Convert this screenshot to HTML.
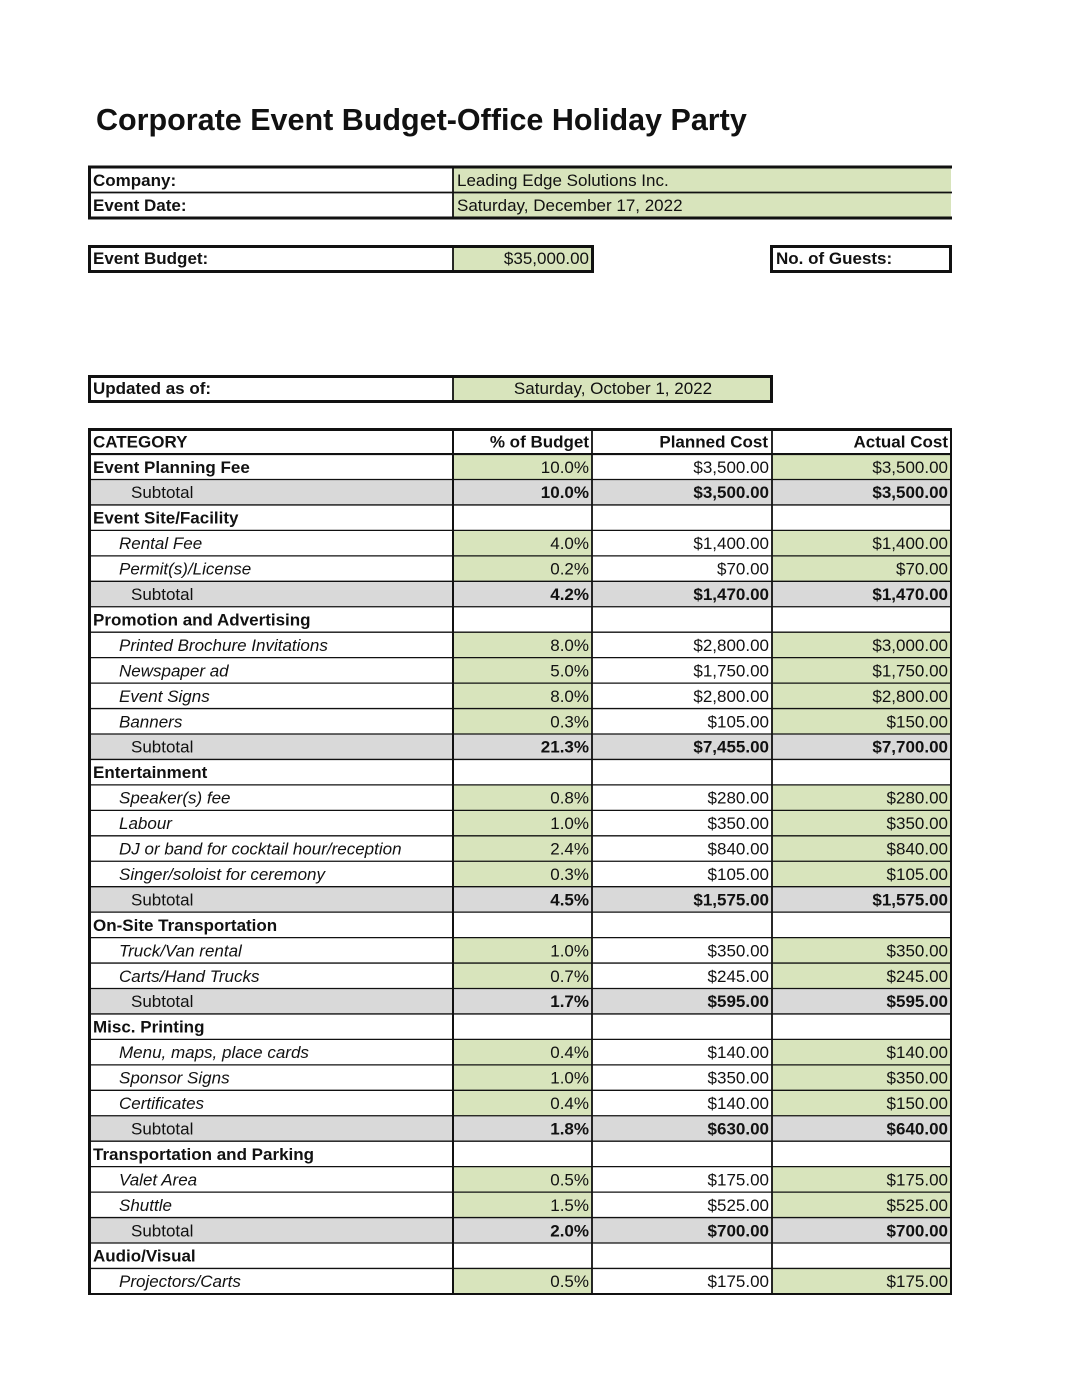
<!DOCTYPE html>
<html><head><meta charset="utf-8"><style>
html,body{margin:0;padding:0;background:#fff;}
svg{display:block;}
text{font-family:"Liberation Sans",Arial,sans-serif;fill:#111;}
.b{font-weight:bold;}
.i{font-style:italic;}
.r{text-anchor:end;}
</style></head><body>
<svg width="1080" height="1398" viewBox="0 0 1080 1398" xmlns="http://www.w3.org/2000/svg">
<rect width="1080" height="1398" fill="#fff"/>
<text x="96" y="130" class="b" font-size="30.5">Corporate Event Budget-Office Holiday Party</text>

<!-- Company box -->
<rect x="453" y="167" width="498" height="51" fill="#d8e4bc"/>
<line x1="88" y1="167" x2="952" y2="167" stroke="#111" stroke-width="3"/>
<line x1="88" y1="218" x2="952" y2="218" stroke="#111" stroke-width="3"/>
<line x1="89" y1="192.5" x2="952" y2="192.5" stroke="#111" stroke-width="1.8"/>
<line x1="89.5" y1="166" x2="89.5" y2="219" stroke="#111" stroke-width="3"/>
<line x1="453" y1="167" x2="453" y2="218" stroke="#111" stroke-width="1.8"/>
<g font-size="17">
<text x="93" y="186" class="b">Company:</text>
<text x="457" y="186">Leading Edge Solutions Inc.</text>
<text x="93" y="211" class="b">Event Date:</text>
<text x="457" y="211">Saturday, December 17, 2022</text>
</g>

<!-- Event budget -->
<rect x="453" y="246" width="140" height="26" fill="#d8e4bc"/>
<rect x="89.5" y="246.5" width="503" height="25" fill="none" stroke="#111" stroke-width="3"/>
<line x1="453" y1="246" x2="453" y2="272" stroke="#111" stroke-width="1.8"/>
<rect x="771.5" y="246.5" width="179" height="25" fill="none" stroke="#111" stroke-width="3"/>
<g font-size="17">
<text x="93" y="264" class="b">Event Budget:</text>
<text x="589" y="264" class="r">$35,000.00</text>
<text x="776" y="264" class="b">No. of Guests:</text>
</g>

<!-- Updated -->
<rect x="453" y="376" width="318" height="26" fill="#d8e4bc"/>
<rect x="89.5" y="376.5" width="682" height="25" fill="none" stroke="#111" stroke-width="3"/>
<line x1="453" y1="376" x2="453" y2="402" stroke="#111" stroke-width="1.8"/>
<g font-size="17">
<text x="93" y="394" class="b">Updated as of:</text>
<text x="613" y="394" text-anchor="middle">Saturday, October 1, 2022</text>
</g>

<!-- Table fills -->
<g fill="#d8e4bc">
<rect x="453" y="454.05" width="139" height="25.45"/><rect x="772" y="454.05" width="179" height="25.45"/>
<rect x="453" y="530.4" width="139" height="50.9"/><rect x="772" y="530.4" width="179" height="50.9"/>
<rect x="453" y="632.2" width="139" height="101.8"/><rect x="772" y="632.2" width="179" height="101.8"/>
<rect x="453" y="784.9" width="139" height="101.8"/><rect x="772" y="784.9" width="179" height="101.8"/>
<rect x="453" y="937.6" width="139" height="50.9"/><rect x="772" y="937.6" width="179" height="50.9"/>
<rect x="453" y="1039.4" width="139" height="76.35"/><rect x="772" y="1039.4" width="179" height="76.35"/>
<rect x="453" y="1166.65" width="139" height="50.9"/><rect x="772" y="1166.65" width="179" height="50.9"/>
<rect x="453" y="1268.45" width="139" height="25.45"/><rect x="772" y="1268.45" width="179" height="25.45"/>
</g>
<g fill="#d9d9d9">
<rect x="89" y="479.5" width="862" height="25.45"/>
<rect x="89" y="581.3" width="862" height="25.45"/>
<rect x="89" y="734.0" width="862" height="25.45"/>
<rect x="89" y="886.7" width="862" height="25.45"/>
<rect x="89" y="988.5" width="862" height="25.45"/>
<rect x="89" y="1115.75" width="862" height="25.45"/>
<rect x="89" y="1217.55" width="862" height="25.45"/>
</g>

<!-- Table lines -->
<g stroke="#111" stroke-width="1.3">
<line x1="89" y1="454.05" x2="951" y2="454.05" stroke-width="2.2"/>
<line x1="89" y1="479.5" x2="951" y2="479.5"/>
<line x1="89" y1="504.95" x2="951" y2="504.95"/>
<line x1="89" y1="530.4" x2="951" y2="530.4"/>
<line x1="89" y1="555.85" x2="951" y2="555.85"/>
<line x1="89" y1="581.3" x2="951" y2="581.3"/>
<line x1="89" y1="606.75" x2="951" y2="606.75"/>
<line x1="89" y1="632.2" x2="951" y2="632.2"/>
<line x1="89" y1="657.65" x2="951" y2="657.65"/>
<line x1="89" y1="683.1" x2="951" y2="683.1"/>
<line x1="89" y1="708.55" x2="951" y2="708.55"/>
<line x1="89" y1="734.0" x2="951" y2="734.0"/>
<line x1="89" y1="759.45" x2="951" y2="759.45"/>
<line x1="89" y1="784.9" x2="951" y2="784.9"/>
<line x1="89" y1="810.35" x2="951" y2="810.35"/>
<line x1="89" y1="835.8" x2="951" y2="835.8"/>
<line x1="89" y1="861.25" x2="951" y2="861.25"/>
<line x1="89" y1="886.7" x2="951" y2="886.7"/>
<line x1="89" y1="912.15" x2="951" y2="912.15"/>
<line x1="89" y1="937.6" x2="951" y2="937.6"/>
<line x1="89" y1="963.05" x2="951" y2="963.05"/>
<line x1="89" y1="988.5" x2="951" y2="988.5"/>
<line x1="89" y1="1013.95" x2="951" y2="1013.95"/>
<line x1="89" y1="1039.4" x2="951" y2="1039.4"/>
<line x1="89" y1="1064.85" x2="951" y2="1064.85"/>
<line x1="89" y1="1090.3" x2="951" y2="1090.3"/>
<line x1="89" y1="1115.75" x2="951" y2="1115.75"/>
<line x1="89" y1="1141.2" x2="951" y2="1141.2"/>
<line x1="89" y1="1166.65" x2="951" y2="1166.65"/>
<line x1="89" y1="1192.1" x2="951" y2="1192.1"/>
<line x1="89" y1="1217.55" x2="951" y2="1217.55"/>
<line x1="89" y1="1243.0" x2="951" y2="1243.0"/>
<line x1="89" y1="1268.45" x2="951" y2="1268.45"/>
<line x1="453" y1="429" x2="453" y2="1294" stroke-width="2"/>
<line x1="592" y1="429" x2="592" y2="1294" stroke-width="1.8"/>
<line x1="772" y1="429" x2="772" y2="1294" stroke-width="1.8"/>
<line x1="88" y1="429.5" x2="952" y2="429.5" stroke-width="3"/>
<line x1="89.5" y1="428" x2="89.5" y2="1295" stroke-width="3"/>
<line x1="951" y1="428" x2="951" y2="1295" stroke-width="2"/>
<line x1="88" y1="1294" x2="952" y2="1294" stroke-width="2"/>
</g>

<!-- Table text -->
<g font-size="17">
<text x="93" y="447.3" class="b">CATEGORY</text>
<text x="589" y="447.3" class="b r">% of Budget</text>
<text x="768" y="447.3" class="b r">Planned Cost</text>
<text x="948" y="447.3" class="b r">Actual Cost</text>

<text x="93" y="472.8" class="b">Event Planning Fee</text>
<text x="589" y="472.8" class="r">10.0%</text><text x="769" y="472.8" class="r">$3,500.00</text><text x="948" y="472.8" class="r">$3,500.00</text>

<text x="131" y="498.2">Subtotal</text>
<text x="589" y="498.2" class="b r">10.0%</text><text x="769" y="498.2" class="b r">$3,500.00</text><text x="948" y="498.2" class="b r">$3,500.00</text>

<text x="93" y="523.7" class="b">Event Site/Facility</text>

<text x="119" y="549.1" class="i">Rental Fee</text>
<text x="589" y="549.1" class="r">4.0%</text><text x="769" y="549.1" class="r">$1,400.00</text><text x="948" y="549.1" class="r">$1,400.00</text>
<text x="119" y="574.6" class="i">Permit(s)/License</text>
<text x="589" y="574.6" class="r">0.2%</text><text x="769" y="574.6" class="r">$70.00</text><text x="948" y="574.6" class="r">$70.00</text>
<text x="131" y="600.0">Subtotal</text>
<text x="589" y="600.0" class="b r">4.2%</text><text x="769" y="600.0" class="b r">$1,470.00</text><text x="948" y="600.0" class="b r">$1,470.00</text>

<text x="93" y="625.5" class="b">Promotion and Advertising</text>
<text x="119" y="650.9" class="i">Printed Brochure Invitations</text>
<text x="589" y="650.9" class="r">8.0%</text><text x="769" y="650.9" class="r">$2,800.00</text><text x="948" y="650.9" class="r">$3,000.00</text>
<text x="119" y="676.4" class="i">Newspaper ad</text>
<text x="589" y="676.4" class="r">5.0%</text><text x="769" y="676.4" class="r">$1,750.00</text><text x="948" y="676.4" class="r">$1,750.00</text>
<text x="119" y="701.8" class="i">Event Signs</text>
<text x="589" y="701.8" class="r">8.0%</text><text x="769" y="701.8" class="r">$2,800.00</text><text x="948" y="701.8" class="r">$2,800.00</text>
<text x="119" y="727.3" class="i">Banners</text>
<text x="589" y="727.3" class="r">0.3%</text><text x="769" y="727.3" class="r">$105.00</text><text x="948" y="727.3" class="r">$150.00</text>
<text x="131" y="752.7">Subtotal</text>
<text x="589" y="752.7" class="b r">21.3%</text><text x="769" y="752.7" class="b r">$7,455.00</text><text x="948" y="752.7" class="b r">$7,700.00</text>

<text x="93" y="778.2" class="b">Entertainment</text>
<text x="119" y="803.6" class="i">Speaker(s) fee</text>
<text x="589" y="803.6" class="r">0.8%</text><text x="769" y="803.6" class="r">$280.00</text><text x="948" y="803.6" class="r">$280.00</text>
<text x="119" y="829.1" class="i">Labour</text>
<text x="589" y="829.1" class="r">1.0%</text><text x="769" y="829.1" class="r">$350.00</text><text x="948" y="829.1" class="r">$350.00</text>
<text x="119" y="854.5" class="i">DJ or band for cocktail hour/reception</text>
<text x="589" y="854.5" class="r">2.4%</text><text x="769" y="854.5" class="r">$840.00</text><text x="948" y="854.5" class="r">$840.00</text>
<text x="119" y="880.0" class="i">Singer/soloist for ceremony</text>
<text x="589" y="880.0" class="r">0.3%</text><text x="769" y="880.0" class="r">$105.00</text><text x="948" y="880.0" class="r">$105.00</text>
<text x="131" y="905.4">Subtotal</text>
<text x="589" y="905.4" class="b r">4.5%</text><text x="769" y="905.4" class="b r">$1,575.00</text><text x="948" y="905.4" class="b r">$1,575.00</text>

<text x="93" y="930.9" class="b">On-Site Transportation</text>
<text x="119" y="956.3" class="i">Truck/Van rental</text>
<text x="589" y="956.3" class="r">1.0%</text><text x="769" y="956.3" class="r">$350.00</text><text x="948" y="956.3" class="r">$350.00</text>
<text x="119" y="981.8" class="i">Carts/Hand Trucks</text>
<text x="589" y="981.8" class="r">0.7%</text><text x="769" y="981.8" class="r">$245.00</text><text x="948" y="981.8" class="r">$245.00</text>
<text x="131" y="1007.2">Subtotal</text>
<text x="589" y="1007.2" class="b r">1.7%</text><text x="769" y="1007.2" class="b r">$595.00</text><text x="948" y="1007.2" class="b r">$595.00</text>

<text x="93" y="1032.7" class="b">Misc. Printing</text>
<text x="119" y="1058.1" class="i">Menu, maps, place cards</text>
<text x="589" y="1058.1" class="r">0.4%</text><text x="769" y="1058.1" class="r">$140.00</text><text x="948" y="1058.1" class="r">$140.00</text>
<text x="119" y="1083.6" class="i">Sponsor Signs</text>
<text x="589" y="1083.6" class="r">1.0%</text><text x="769" y="1083.6" class="r">$350.00</text><text x="948" y="1083.6" class="r">$350.00</text>
<text x="119" y="1109.0" class="i">Certificates</text>
<text x="589" y="1109.0" class="r">0.4%</text><text x="769" y="1109.0" class="r">$140.00</text><text x="948" y="1109.0" class="r">$150.00</text>
<text x="131" y="1134.5">Subtotal</text>
<text x="589" y="1134.5" class="b r">1.8%</text><text x="769" y="1134.5" class="b r">$630.00</text><text x="948" y="1134.5" class="b r">$640.00</text>

<text x="93" y="1159.9" class="b">Transportation and Parking</text>
<text x="119" y="1185.4" class="i">Valet Area</text>
<text x="589" y="1185.4" class="r">0.5%</text><text x="769" y="1185.4" class="r">$175.00</text><text x="948" y="1185.4" class="r">$175.00</text>
<text x="119" y="1210.8" class="i">Shuttle</text>
<text x="589" y="1210.8" class="r">1.5%</text><text x="769" y="1210.8" class="r">$525.00</text><text x="948" y="1210.8" class="r">$525.00</text>
<text x="131" y="1236.3">Subtotal</text>
<text x="589" y="1236.3" class="b r">2.0%</text><text x="769" y="1236.3" class="b r">$700.00</text><text x="948" y="1236.3" class="b r">$700.00</text>

<text x="93" y="1261.7" class="b">Audio/Visual</text>
<text x="119" y="1287.2" class="i">Projectors/Carts</text>
<text x="589" y="1287.2" class="r">0.5%</text><text x="769" y="1287.2" class="r">$175.00</text><text x="948" y="1287.2" class="r">$175.00</text>
</g>
</svg>
</body></html>
